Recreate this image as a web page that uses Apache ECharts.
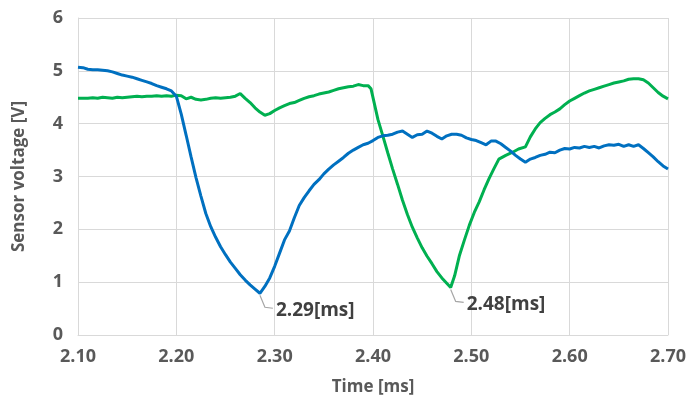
<!DOCTYPE html>
<html>
<head>
<meta charset="utf-8">
<script src="https://cdn.jsdelivr.net/npm/echarts@6/dist/echarts.min.js"></script>
<style>
html,body{margin:0;padding:0;background:#fff;}
#chart{width:689px;height:401px;}
</style>
</head>
<body>
<div id="chart"></div>
<script>
// Time [ms]
const blueTime = [2.100,2.105,2.110,2.115,2.120,2.125,2.130,2.135,2.140,2.145,2.150,2.155,2.160,2.165,2.170,2.175,2.180,2.185,2.190,2.195,
2.200,2.205,2.210,2.215,2.220,2.225,2.230,2.235,2.240,2.245,2.250,2.255,2.260,2.265,2.270,2.275,2.280,2.285,2.290,2.295,
2.300,2.305,2.310,2.315,2.320,2.325,2.330,2.335,2.340,2.345,2.350,2.355,2.360,2.365,2.370,2.375,2.380,2.385,2.390,2.395,
2.400,2.405,2.410,2.415,2.420,2.425,2.430,2.435,2.440,2.445,2.450,2.455,2.460,2.465,2.470,2.475,2.480,2.485,2.490,2.495,
2.500,2.505,2.510,2.515,2.520,2.525,2.530,2.535,2.540,2.545,2.550,2.555,2.560,2.565,2.570,2.575,2.580,2.585,2.590,2.595,
2.600,2.605,2.610,2.615,2.620,2.625,2.630,2.635,2.640,2.645,2.650,2.655,2.660,2.665,2.670,2.675,2.680,2.685,2.690,2.695,2.700];
// Sensor voltage [V], blue trace
const blueVolt = [5.07,5.06,5.03,5.02,5.02,5.01,5.00,4.98,4.95,4.92,4.90,4.88,4.85,4.82,4.79,4.76,4.72,4.69,4.66,4.62,
4.52,4.18,3.78,3.37,2.98,2.63,2.30,2.05,1.85,1.67,1.52,1.38,1.26,1.14,1.04,0.95,0.87,0.79,0.92,1.08,
1.30,1.55,1.80,1.97,2.22,2.45,2.60,2.73,2.85,2.94,3.05,3.14,3.22,3.29,3.36,3.44,3.50,3.55,3.60,3.63,
3.68,3.74,3.77,3.78,3.80,3.84,3.86,3.80,3.74,3.79,3.80,3.86,3.82,3.76,3.71,3.77,3.80,3.80,3.78,3.73,
3.70,3.68,3.64,3.60,3.67,3.67,3.62,3.55,3.48,3.40,3.33,3.27,3.33,3.36,3.40,3.42,3.46,3.45,3.50,3.53,
3.52,3.55,3.54,3.57,3.55,3.57,3.54,3.58,3.60,3.59,3.61,3.57,3.60,3.57,3.60,3.53,3.45,3.37,3.28,3.20,3.14];

const greenTime = [2.100,2.105,2.110,2.115,2.120,2.125,2.130,2.135,2.140,2.145,2.150,2.155,2.160,2.165,2.170,2.175,2.180,2.185,2.190,2.195,
2.200,2.205,2.210,2.215,2.220,2.225,2.230,2.235,2.240,2.245,2.250,2.255,2.260,2.265,2.270,2.275,2.280,2.285,2.290,2.295,
2.300,2.305,2.310,2.315,2.320,2.325,2.330,2.335,2.340,2.345,2.350,2.355,2.360,2.365,2.370,2.375,2.380,2.385,2.390,2.395,
2.398,2.405,2.410,2.415,2.420,2.425,2.430,2.435,2.440,2.445,2.450,2.455,2.460,2.465,2.470,2.475,2.479,2.483,2.488,2.493,
2.498,2.503,2.508,2.513,2.518,2.523,2.528,2.535,2.542,2.548,2.555,2.560,2.565,2.570,2.575,2.580,2.585,2.590,2.595,
2.600,2.605,2.610,2.615,2.620,2.625,2.630,2.635,2.640,2.645,2.650,2.655,2.660,2.665,2.670,2.675,2.680,2.685,2.690,2.695,2.700];
const greenVolt = [4.48,4.48,4.48,4.49,4.48,4.50,4.49,4.48,4.50,4.49,4.50,4.51,4.52,4.51,4.52,4.52,4.53,4.52,4.53,4.52,
4.54,4.53,4.47,4.50,4.46,4.45,4.46,4.48,4.49,4.48,4.49,4.50,4.52,4.57,4.48,4.40,4.30,4.22,4.16,4.19,
4.25,4.30,4.34,4.38,4.40,4.44,4.48,4.51,4.53,4.56,4.58,4.60,4.63,4.66,4.68,4.70,4.71,4.74,4.72,4.72,
4.66,4.08,3.77,3.45,3.14,2.85,2.55,2.28,2.04,1.84,1.65,1.49,1.35,1.20,1.08,0.98,0.90,1.12,1.51,1.80,
2.08,2.32,2.52,2.75,2.96,3.15,3.33,3.40,3.46,3.52,3.56,3.75,3.90,4.02,4.10,4.17,4.22,4.28,4.36,
4.43,4.48,4.53,4.58,4.62,4.65,4.68,4.71,4.74,4.77,4.79,4.81,4.84,4.85,4.85,4.83,4.77,4.68,4.59,4.52,4.47];

const xTicks = [2.10,2.20,2.30,2.40,2.50,2.60,2.70];
const yTicks = [0,1,2,3,4,5,6];
const annotations = [
  {series: 0, time: 2.285, volt: 0.79, text: '2.29[ms]'},
  {series: 1, time: 2.479, volt: 0.90, text: '2.48[ms]'}
];

const FONT = '"Open Sans", "Noto Sans", sans-serif';
const TXT = '#595959';
const GRID = '#d9d9d9';

const chart = echarts.init(document.getElementById('chart'), null, {renderer: 'canvas'});

function zip(a, b) { return a.map((t, i) => [t, b[i]]); }

chart.setOption({
  animation: false,
  backgroundColor: '#ffffff',
  grid: {left: 78, right: 20, top: 18, bottom: 64, containLabel: false},
  xAxis: {
    type: 'value',
    min: 2.10, max: 2.70, interval: 0.1,
    name: 'Time [ms]', nameLocation: 'middle', nameGap: 44,
    nameTextStyle: {color: TXT, fontFamily: FONT, fontWeight: 'bold', fontSize: 17},
    axisLine: {show: true, lineStyle: {color: GRID, width: 1}},
    axisTick: {show: false},
    axisLabel: {color: TXT, fontFamily: FONT, fontWeight: 'bold', fontSize: 18, margin: 13,
      formatter: v => v.toFixed(2)},
    splitLine: {show: true, lineStyle: {color: GRID, width: 1}}
  },
  yAxis: {
    type: 'value',
    min: 0, max: 6, interval: 1,
    name: 'Sensor voltage [V]', nameLocation: 'middle', nameGap: 50,
    nameTextStyle: {color: TXT, fontFamily: FONT, fontWeight: 'bold', fontSize: 17},
    axisLine: {show: true, lineStyle: {color: GRID, width: 1}},
    axisTick: {show: false},
    axisLabel: {color: TXT, fontFamily: FONT, fontWeight: 'bold', fontSize: 18, margin: 15},
    splitLine: {show: true, lineStyle: {color: GRID, width: 1}}
  },
  series: [
    {type: 'line', data: zip(blueTime, blueVolt), showSymbol: false, symbol: 'none',
     lineStyle: {color: '#0070C0', width: 3}, itemStyle: {color: '#0070C0'}, z: 3},
    {type: 'line', data: zip(greenTime, greenVolt), showSymbol: false, symbol: 'none',
     lineStyle: {color: '#00B050', width: 3}, itemStyle: {color: '#00B050'}, z: 2}
  ]
});

const g = [];
annotations.forEach(a => {
  const p = chart.convertToPixel({gridIndex: 0}, [a.time, a.volt]);
  const x0 = p[0], y0 = p[1] + 2;
  g.push({
    type: 'polyline', silent: true,
    shape: {points: [[x0, y0], [x0 + 5, y0 + 12], [x0 + 13, y0 + 13]]},
    style: {stroke: '#a6a6a6', lineWidth: 1.2, fill: null}
  });
  g.push({
    type: 'text', silent: true,
    x: x0 + 16, y: y0 + 15,
    style: {text: a.text, fill: '#404040', font: 'bold 19px ' + FONT, verticalAlign: 'middle'}
  });
});
chart.setOption({graphic: g});
</script>
</body>
</html>
